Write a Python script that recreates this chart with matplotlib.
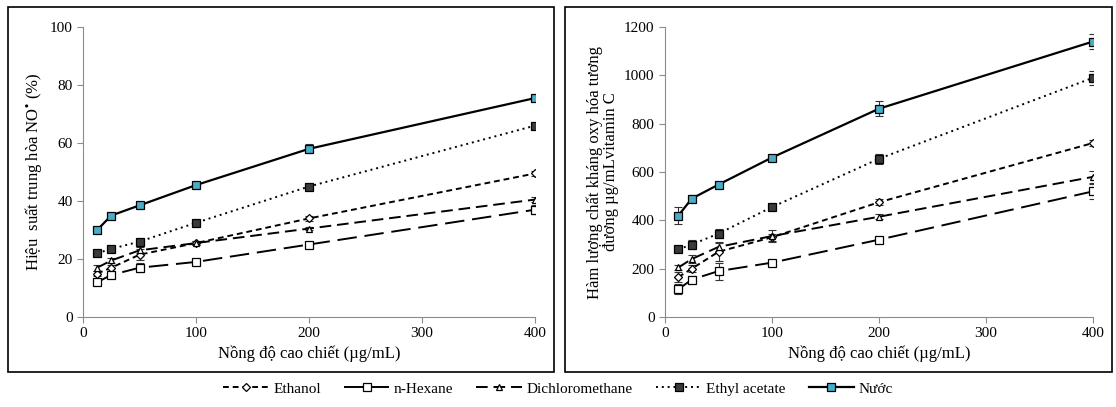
import matplotlib.pyplot as plt
from matplotlib.patches import Rectangle

plt.rcParams['font.family'] = ['Liberation Serif', 'DejaVu Serif']
plt.rcParams['mathtext.fontset'] = 'stix'

# nong do cao chiet (ug/mL)
conc = [12.5, 25, 50, 100, 200, 400]
names = ['Ethanol', 'n-Hexane', 'Dichloromethane', 'Ethyl acetate', 'Nước']

# hieu suat trung hoa NO (%)
no_ethanol = [15, 17, 21.5, 25.5, 34, 49.5]
no_hexane = [12, 14.5, 17, 19, 25, 37]
no_dcm = [17, 19.5, 23, 25.5, 30.5, 40.5]
no_ea = [22, 23.5, 26, 32.5, 45, 66]
no_water = [30, 35, 38.5, 45.5, 58, 75.5]
no_err = [[1, 1, 2, 0.8, 0.8, 0.8],
          [0.8, 1, 1.5, 0.8, 0.6, 1.5],
          [1, 1, 1, 0.8, 0.6, 1],
          [0.8, 0.8, 0.8, 0.8, 0.8, 1],
          [0.8, 0.8, 0.8, 1, 1.5, 1]]

# ham luong chat khang oxy hoa (ug/mL vitamin C)
vc_ethanol = [165, 200, 270, 330, 475, 720]
vc_hexane = [115, 155, 190, 225, 320, 520]
vc_dcm = [205, 240, 290, 335, 415, 580]
vc_ea = [280, 300, 345, 455, 655, 990]
vc_water = [420, 490, 548, 660, 862, 1140]
vc_err = [[20, 15, 40, 15, 12, 12],
          [20, 15, 35, 10, 10, 30],
          [10, 15, 15, 25, 10, 25],
          [10, 20, 20, 10, 20, 30],
          [35, 15, 12, 12, 30, 30]]

styles = [
    dict(ls=(0, (3, 2)), marker='D', ms=4, mfc='white', mec='black'),
    dict(ls=(0, (10, 4)), marker='s', ms=6, mfc='white', mec='black'),
    dict(ls=(0, (6, 3)), marker='^', ms=5, mfc='white', mec='black'),
    dict(ls=(0, (1, 2)), marker='s', ms=6, mfc='#3a3a3a', mec='black'),
    dict(ls='-', marker='s', ms=6, mfc='#4bacc6', mec='black'),
]

fig = plt.figure(figsize=(11.16, 4.07), dpi=100)

# khung cho hai bieu do
fig.patches.append(Rectangle((0.0072, 0.086), 0.489, 0.897, transform=fig.transFigure,
                             fill=False, ec='black', lw=1.2))
fig.patches.append(Rectangle((0.5063, 0.086), 0.4905, 0.897, transform=fig.transFigure,
                             fill=False, ec='black', lw=1.2))

ax1 = fig.add_axes([0.0744, 0.2211, 0.405, 0.7125])
ax2 = fig.add_axes([0.5959, 0.2211, 0.3835, 0.7125])

left_data = [no_ethanol, no_hexane, no_dcm, no_ea, no_water]
right_data = [vc_ethanol, vc_hexane, vc_dcm, vc_ea, vc_water]

handles = []
for ax, data, errs in [(ax1, left_data, no_err), (ax2, right_data, vc_err)]:
    for i in range(len(names)):
        st = styles[i]
        lw = 1.6 if i == 4 else 1.4
        ax.errorbar(conc, data[i], yerr=errs[i], fmt='none', ecolor='#333333',
                    elinewidth=0.8, capsize=3, capthick=0.8, zorder=2)
        h, = ax.plot(conc, data[i], color='black', lw=lw, linestyle=st['ls'],
                     marker=st['marker'], ms=st['ms'], mfc=st['mfc'], mec=st['mec'],
                     mew=0.9, label=names[i], zorder=3)
        if ax is ax1:
            handles.append(h)
    ax.set_xlim(0, 400)
    ax.set_xticks([0, 100, 200, 300, 400])
    for s in ['top', 'right']:
        ax.spines[s].set_visible(False)
    for s in ['left', 'bottom']:
        ax.spines[s].set_color('#8c8c8c')
        ax.spines[s].set_linewidth(0.8)
    ax.tick_params(colors='#8c8c8c', labelcolor='black', labelsize=11, length=4, width=0.8)
    ax.set_xlabel('Nồng độ cao chiết (µg/mL)', fontsize=12, labelpad=4)

ax1.set_ylim(0, 100)
ax1.set_yticks(range(0, 101, 20))
ax1.set_ylabel('Hiệu  suất trung hòa NO$^{\\bullet}$ (%)', fontsize=12)

ax2.set_ylim(0, 1200)
ax2.set_yticks(range(0, 1201, 200))
ax2.set_ylabel('Hàm lượng chất kháng oxy hóa tương\nđương µg/mLvitamin C', fontsize=12,
               linespacing=1.0)

fig.legend(handles=handles, loc='center', bbox_to_anchor=(0.5, 0.045), ncol=5,
           frameon=False, fontsize=11, handlelength=3, columnspacing=1.5,
           handletextpad=0.3)

fig.savefig('out.png', dpi=100)
